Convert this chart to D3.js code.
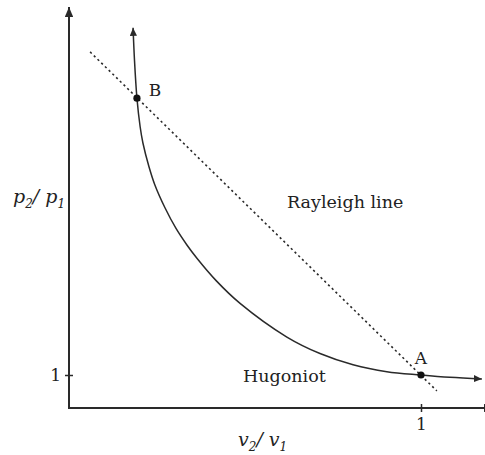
<!DOCTYPE html>
<html>
<head>
<meta charset="utf-8">
<script src="https://cdn.jsdelivr.net/npm/d3@7"></script>
<style>
  html, body { margin: 0; padding: 0; background: #fff; }
  svg text { font-family: "DejaVu Serif", "Liberation Serif", serif; fill: #222; }
</style>
</head>
<body>
<svg id="chart" width="485" height="455"></svg>
<script>
// Hugoniot curve: specific volume ratio v2/v1 against pressure ratio p2/p1
const hugoniotV = [0.182, 0.186, 0.193, 0.202, 0.210, 0.227, 0.244, 0.273, 0.304, 0.335, 0.364, 0.418, 0.486, 0.619, 0.713, 0.807, 0.903, 1.0, 1.082, 1.173];
const hugoniotP = [11.52, 10.55, 9.39, 8.53, 8.03, 7.32, 6.76, 6.06, 5.44, 4.94, 4.53, 3.86, 3.17, 2.15, 1.65, 1.31, 1.10, 1.0, 0.93, 0.88];

// Rayleigh line end points (straight line through A and B)
const rayleighV = [0.06, 1.045];
const rayleighP = [10.79, 0.52];

// Marked states
const pointNames = ["A", "B"];
const pointV = [1.0, 0.193];
const pointP = [1.0, 9.39];

// Tick values on both axes
const xTicks = [1];
const yTicks = [1];

const svg = d3.select("#chart");
const x0 = 69, y0 = 408;

const x = d3.scaleLinear().domain([0, 1.18]).range([x0, x0 + 1.18 * 352]);
const y = d3.scaleLinear().domain([0, 12.1]).range([y0, y0 - 12.1 * 33]);

const ink = "#2a2a2a";

// arrowheads
const defs = svg.append("defs");
function arrow(id, len, half) {
  defs.append("marker")
    .attr("id", id)
    .attr("markerUnits", "userSpaceOnUse")
    .attr("viewBox", `0 ${-half} ${len} ${2 * half}`)
    .attr("refX", len).attr("refY", 0)
    .attr("markerWidth", len).attr("markerHeight", 2 * half)
    .attr("orient", "auto-start-reverse")
    .append("path")
    .attr("d", `M0,${-half}L${len},0L0,${half}Z`)
    .attr("fill", ink);
}
arrow("axisArrow", 10, 4.2);
arrow("curveArrow", 8, 3.6);

// y axis
const yAxis = svg.append("g")
  .attr("transform", `translate(${x0},0)`)
  .call(d3.axisLeft(y).tickValues(yTicks).tickSize(4).tickSizeOuter(0).tickFormat(d3.format("d")));
yAxis.select(".domain").remove();
yAxis.selectAll(".tick line").attr("x1", -4).attr("x2", 4).attr("stroke", ink).attr("stroke-width", 1.5);
yAxis.selectAll(".tick text")
  .attr("x", -8).attr("dy", "0.35em")
  .style("font-family", "DejaVu Serif").style("font-size", "17px").attr("fill", ink);

svg.append("line")
  .attr("x1", x0).attr("y1", y0 + 1)
  .attr("x2", x0).attr("y2", 7)
  .attr("stroke", ink).attr("stroke-width", 2)
  .attr("marker-end", "url(#axisArrow)");

// x axis
const xAxis = svg.append("g")
  .attr("transform", `translate(0,${y0})`)
  .call(d3.axisBottom(x).tickValues(xTicks).tickSize(4).tickSizeOuter(0).tickFormat(d3.format("d")));
xAxis.select(".domain").remove();
xAxis.selectAll(".tick line").attr("y1", -4).attr("y2", 4).attr("stroke", ink).attr("stroke-width", 1.5);
xAxis.selectAll(".tick text")
  .attr("y", 10).attr("dy", "0.71em")
  .style("font-family", "DejaVu Serif").style("font-size", "17px").attr("fill", ink);

svg.append("line")
  .attr("x1", x0 - 1).attr("y1", y0)
  .attr("x2", 494).attr("y2", y0)
  .attr("stroke", ink).attr("stroke-width", 2)
  .attr("marker-end", "url(#axisArrow)");

// Rayleigh line
svg.append("path")
  .datum(d3.zip(rayleighV, rayleighP))
  .attr("d", d3.line().x(d => x(d[0])).y(d => y(d[1])))
  .attr("fill", "none")
  .attr("stroke", ink)
  .attr("stroke-width", 1.6)
  .attr("stroke-dasharray", "2.2,3");

// Hugoniot curve
svg.append("path")
  .datum(d3.zip(hugoniotV, hugoniotP))
  .attr("d", d3.line().x(d => x(d[0])).y(d => y(d[1])).curve(d3.curveCatmullRom.alpha(0.5)))
  .attr("fill", "none")
  .attr("stroke", ink)
  .attr("stroke-width", 1.5)
  .attr("marker-start", "url(#curveArrow)")
  .attr("marker-end", "url(#curveArrow)");

// states A and B
const pts = d3.zip(pointNames, pointV, pointP);
svg.selectAll("circle.state")
  .data(pts).join("circle")
  .attr("class", "state")
  .attr("cx", d => x(d[1])).attr("cy", d => y(d[2]))
  .attr("r", 3.6).attr("fill", "#111");

const labelOffset = { A: [0, -11], B: [18, -2] };
svg.selectAll("text.state")
  .data(pts).join("text")
  .attr("class", "state")
  .attr("x", d => x(d[1]) + labelOffset[d[0]][0])
  .attr("y", d => y(d[2]) + labelOffset[d[0]][1])
  .attr("text-anchor", "middle")
  .style("font-size", "17px")
  .text(d => d[0]);

// curve names
svg.append("text").attr("x", 287).attr("y", 208).style("font-size", "17.5px").text("Rayleigh line");
svg.append("text").attr("x", 243).attr("y", 382).style("font-size", "17.5px").text("Hugoniot");

// axis titles with subscripts
function ratioLabel(sel, sym, a, b) {
  const t = sel.style("font-style", "italic").style("font-size", "19px");
  t.append("tspan").text(sym);
  t.append("tspan").attr("dy", 5).style("font-size", "12px").text(a);
  t.append("tspan").attr("dy", -5).text("/ ");
  t.append("tspan").text(sym);
  t.append("tspan").attr("dy", 5).style("font-size", "12px").text(b);
}
ratioLabel(svg.append("text").attr("x", 13).attr("y", 203), "p", "2", "1");
ratioLabel(svg.append("text").attr("x", 238).attr("y", 446), "v", "2", "1");
</script>
</body>
</html>
